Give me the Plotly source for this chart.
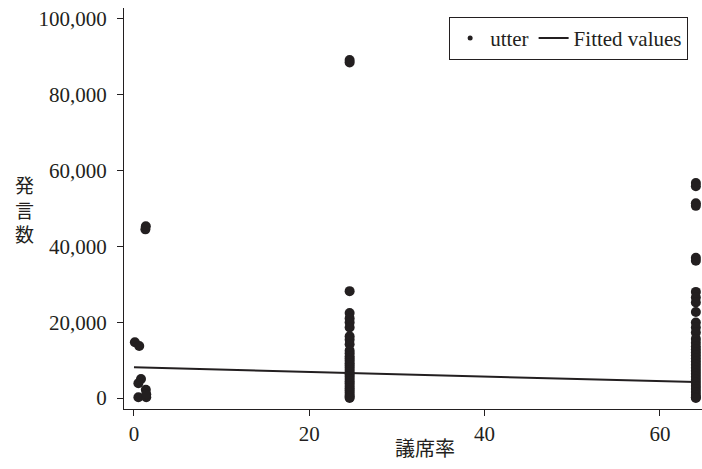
import plotly.graph_objects as go

# ---- data ----
left_x = [0.1, 0.6, 0.8, 0.5, 1.35, 0.5, 1.4, 1.4, 1.3, 1.35]
left_y = [14700, 13700, 5000, 3900, 2200, 200, 200, 1000, 44500, 45300]

mid_x_val = 24.6
mid_y = [89200, 88500, 28200, 22400, 21000, 19900, 18600, 16300, 15400, 14200,
         12500, 11800, 11000, 10400, 9800, 9200, 8600, 8000, 7400, 6800, 6200,
         5600, 5000, 4400, 3800, 3200, 2600, 2000, 1400, 800, 300, 0]

right_x_val = 64.1
right_y = [56700, 55900, 51400, 50700, 37000, 36200, 28000, 26500, 25200, 22700,
           19900, 18600, 17300, 15600, 14600, 13600, 12800, 12000, 11200, 10400,
           9600, 8800, 8000, 7200, 6400, 5600, 4800, 4000, 3200, 2400, 1600, 800,
           200, 0]

fit_x = [0.0, 64.1]
fit_y = [8100, 4200]

x_ticks = [0, 20, 40, 60]
y_ticks = [0, 20000, 40000, 60000, 80000, 100000]

x_title = "議席率"
y_title = "発言数"

utter_x = left_x + [mid_x_val] * len(mid_y) + [right_x_val] * len(right_y)
utter_y = left_y + mid_y + right_y

INK = "#231f20"
SERIF = "Liberation Serif"

fig = go.Figure()
fig.add_trace(go.Scatter(x=utter_x, y=utter_y, mode="markers",
                         marker=dict(size=10, color=INK), showlegend=False,
                         cliponaxis=False))
fig.add_trace(go.Scatter(x=fit_x, y=fit_y, mode="lines",
                         line=dict(color=INK, width=2), showlegend=False))
# legend entries
fig.add_trace(go.Scatter(x=[None], y=[None], mode="markers", name="utter",
                         marker=dict(size=5, color=INK)))
fig.add_trace(go.Scatter(x=[None], y=[None], mode="lines", name="Fitted values",
                         line=dict(color=INK, width=2)))

fig.update_layout(
    width=702, height=469,
    margin=dict(l=124, r=0, t=8, b=60),
    paper_bgcolor="white", plot_bgcolor="white",
    font=dict(family=SERIF, size=20, color=INK),
    showlegend=True,
    legend=dict(orientation="h", x=0.976, xanchor="right", y=0.978, yanchor="top",
                bordercolor=INK, borderwidth=1, bgcolor="white",
                font=dict(family=SERIF, size=21, color=INK),
                itemwidth=30, tracegroupgap=0),
)
fig.update_xaxes(range=[-1.14, 64.8], tickvals=x_ticks, showgrid=False, zeroline=False,
                 showline=True, linecolor=INK, linewidth=1, ticks="outside", ticklen=6,
                 tickcolor=INK, ticklabelstandoff=0,
                 tickfont=dict(family=SERIF, size=21, color=INK))
fig.update_yaxes(range=[-2900, 102900], tickvals=y_ticks, tickformat=",d",
                 showgrid=False, zeroline=False, showline=True, linecolor=INK,
                 linewidth=1, ticks="outside", ticklen=6, tickcolor=INK,
                 ticklabelstandoff=6,
                 tickfont=dict(family=SERIF, size=21, color=INK))

fig.add_annotation(text=x_title, xref="paper", yref="paper", x=0.52, y=-0.055,
                   xanchor="center", yanchor="top", showarrow=False,
                   font=dict(family="Noto Sans CJK JP", size=20, color=INK))
fig.add_annotation(text="<br>".join(list(y_title)), xref="paper", yref="paper",
                   x=-0.173, y=0.5, xanchor="center", yanchor="middle", showarrow=False,
                   font=dict(family="Noto Sans CJK JP", size=19, color=INK))

fig.write_html("out.html")
